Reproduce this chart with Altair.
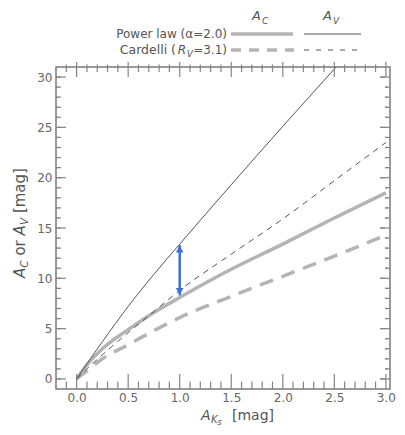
import altair as alt
import pandas as pd

# ---- data ----
ak = [0.0, 0.1, 0.25, 0.5, 0.75, 1.0, 1.5, 2.0, 2.5, 3.0]
av_pow = [0.0, 1.5, 3.7, 7.2, 10.4, 13.4, 19.3, 25.1, 30.8, 36.5]
ac_pow = [0.0, 1.4, 3.0, 4.9, 6.6, 8.1, 10.9, 13.4, 16.0, 18.5]
av_car = [0.0, 1.0, 2.4, 4.6, 6.7, 8.8, 12.4, 15.9, 19.7, 23.5]
ac_car = [0.0, 0.8, 2.0, 3.4, 4.8, 6.1, 8.2, 10.2, 12.2, 14.3]

arrow_x = [1.0]
arrow_lo = [8.3]
arrow_hi = [13.3]

x_major = [0.0, 0.5, 1.0, 1.5, 2.0, 2.5, 3.0]
x_minor = [round(i * 0.1, 1) for i in range(-1, 31) if i % 5 != 0]
y_major = [0, 5, 10, 15, 20, 25, 30]
y_minor = [i for i in range(0, 31) if i % 5 != 0]

W, H = 334, 322
XMIN, XMAX = -0.2, 3.04
YMIN, YMAX = -1.0, 31.0
XS = alt.Scale(domain=[XMIN, XMAX], nice=False, zero=False)
YS = alt.Scale(domain=[YMIN, YMAX], nice=False, zero=False)

FONT = "DejaVu Sans"
TXT = "#555555"
THIN = "#555555"
THICK = "#b4b4b4"
TICK = "#858585"


def line_layer(ys, color, width, dash=None, axes=False):
    df = pd.DataFrame({"x": ak, "y": ys})
    kw = dict(color=color, strokeWidth=width, clip=True, interpolate="monotone")
    if dash:
        kw["strokeDash"] = dash
    if axes:
        xenc = alt.X("x:Q", scale=XS, axis=alt.Axis(values=x_major, format=".1f", domain=False,
                                                    ticks=False, grid=False, title=None,
                                                    labelPadding=3))
        yenc = alt.Y("y:Q", scale=YS, axis=alt.Axis(values=y_major, format="d", domain=False,
                                                    ticks=False, grid=False, title=None,
                                                    labelPadding=4))
    else:
        xenc = alt.X("x:Q", scale=XS)
        yenc = alt.Y("y:Q", scale=YS)
    return alt.Chart(df).mark_line(**kw).encode(x=xenc, y=yenc)


layers = []
layers.append(line_layer(ac_pow, THICK, 3.5, axes=True))
layers.append(line_layer(ac_car, THICK, 3.5, dash=[14, 9]))
layers.append(line_layer(av_pow, THIN, 1.0))
layers.append(line_layer(av_car, THIN, 1.0, dash=[6, 5]))

# ---- inward ticks on all four sides (tick length converted from px to data units) ----
dy = (YMAX - YMIN) / H
dx = (XMAX - XMIN) / W


def xticks(vals, length):
    L = length * dy
    df = pd.DataFrame({"x": vals * 2,
                       "y": [YMIN] * len(vals) + [YMAX - L] * len(vals),
                       "y2": [YMIN + L] * len(vals) + [YMAX] * len(vals)})
    rule = alt.Chart(df).mark_rule(color=TICK, strokeWidth=1.2).encode(
        x=alt.X("x:Q", scale=XS), y=alt.Y("y:Q", scale=YS), y2="y2:Q")
    sym = alt.Chart(df).mark_point(shape="M0,0L0,-1", size=length * length, color=TICK,
                                   strokeWidth=1.2, filled=False, opacity=1).encode(
        x=alt.X("x:Q", scale=XS), y=alt.Y("y2:Q", scale=YS))
    return [rule, sym]


def yticks(vals, length):
    L = length * dx
    df = pd.DataFrame({"y": vals * 2,
                       "x": [XMIN] * len(vals) + [XMAX - L] * len(vals),
                       "x2": [XMIN + L] * len(vals) + [XMAX] * len(vals)})
    rule = alt.Chart(df).mark_rule(color=TICK, strokeWidth=1.2).encode(
        y=alt.Y("y:Q", scale=YS), x=alt.X("x:Q", scale=XS), x2="x2:Q")
    sym = alt.Chart(df).mark_point(shape="M0,0L1,0", size=length * length, color=TICK,
                                   strokeWidth=1.2, filled=False, opacity=1).encode(
        y=alt.Y("y:Q", scale=YS), x=alt.X("x:Q", scale=XS))
    return [rule, sym]


layers += xticks(x_major, 10) + xticks(x_minor, 5) + yticks(y_major, 10) + yticks(y_minor, 5)

# ---- blue double arrow ----
adf = pd.DataFrame({"x": arrow_x, "lo": arrow_lo, "hi": arrow_hi})
BLUE = "#3f6fd6"
layers.append(alt.Chart(adf).mark_rule(color=BLUE, strokeWidth=2.5).encode(
    x=alt.X("x:Q", scale=XS), y=alt.Y("lo:Q", scale=YS), y2="hi:Q"))
layers.append(alt.Chart(adf).mark_point(shape="triangle-up", filled=True, color=BLUE,
                                        size=60, opacity=1, yOffset=4).encode(
    x=alt.X("x:Q", scale=XS), y=alt.Y("hi:Q", scale=YS)))
layers.append(alt.Chart(adf).mark_point(shape="triangle-down", filled=True, color=BLUE,
                                        size=60, opacity=1, yOffset=-4).encode(
    x=alt.X("x:Q", scale=XS), y=alt.Y("lo:Q", scale=YS)))


def txt(s, x, y, size=12, align="left", italic=False, angle=0, baseline="alphabetic"):
    kw = dict(text=s, font=FONT, fontSize=size, color=TXT, align=align, baseline=baseline)
    if italic:
        kw["fontStyle"] = "italic"
    if angle:
        kw["angle"] = angle
    return alt.Chart(adf).mark_text(**kw).encode(x=alt.value(x), y=alt.value(y))


LX = -2
LY = 2
# ---- legend ----
layers.append(txt("Power law (α=2.0)", 173 + LX, -31 + LY, align="right"))
layers.append(txt("=3.1)", 173 + LX, -15 + LY, align="right"))
layers.append(txt("V", 139 + LX, -12 + LY, size=9, align="right", italic=True))
layers.append(txt("R", 132 + LX, -15 + LY, align="right", italic=True))
layers.append(txt("Cardelli (", 122 + LX, -15 + LY, align="right", size=12.5))
# headers
layers.append(txt("A", 207 + LX, -49 + LY, size=13, align="right", italic=True))
layers.append(txt("C", 208 + LX, -45 + LY, size=9, italic=True))
layers.append(txt("A", 278 + LX, -49 + LY, size=13, align="right", italic=True))
layers.append(txt("V", 279 + LX, -45 + LY, size=9, italic=True))


def seg(x1, x2, y, color, width, dash=None):
    kw = dict(color=color, strokeWidth=width)
    if dash:
        kw["strokeDash"] = dash
    return alt.Chart(adf).mark_rule(**kw).encode(x=alt.value(x1), x2=alt.value(x2), y=alt.value(y))


layers.append(seg(177 + LX, 239 + LX, -35 + LY, THICK, 3.5))
layers.append(seg(250 + LX, 307 + LX, -35 + LY, THIN, 1.0))
layers.append(seg(177 + LX, 240 + LX, -19 + LY, THICK, 3.5, dash=[10, 8]))
layers.append(seg(250 + LX, 307 + LX, -19 + LY, THIN, 1.0, dash=[5, 7]))

# ---- x title: A_Ks [mag] ----
layers.append(txt("A", 145, 353, size=14, italic=True))
layers.append(txt("K", 155, 356, size=10, italic=True))
layers.append(txt("s", 161.5, 357.5, size=8, italic=True))
layers.append(txt("[mag]", 176, 353, size=14))

# ---- y title: A_C or A_V [mag] (rotated) ----
bx = -31
by = 211
layers.append(txt("A", bx, by, size=15, italic=True, angle=270))
layers.append(txt("C", bx + 3, by - 10.3, size=10.5, italic=True, angle=270))
layers.append(txt("or", bx, by - 22.4, size=15, angle=270))
layers.append(txt("A", bx, by - 42.6, size=15, italic=True, angle=270))
layers.append(txt("V", bx + 3, by - 52.9, size=10.5, italic=True, angle=270))
layers.append(txt("[mag]", bx, by - 64.9, size=15, angle=270))

chart = alt.layer(*layers).properties(
    width=W, height=H,
    autosize=alt.AutoSizeParams(type="none"),
    padding={"left": 48, "top": 59, "right": 7, "bottom": 38},
).configure_view(stroke="#7a7a7a", strokeWidth=1.5).configure_axis(
    labelFont=FONT, labelFontSize=12, labelColor="#666666"
)

chart.save("out.html", embed_options={"renderer": "svg", "actions": False})
